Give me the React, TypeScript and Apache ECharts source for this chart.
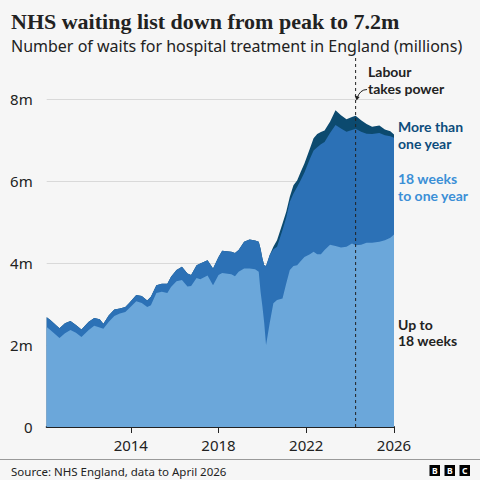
import React, { useEffect, useRef } from "react";
import * as echarts from "echarts";

// Month of each reading (YYYY-MM)
const months = [
  "2010-06", "2010-08", "2011-01", "2011-04", "2011-07", "2011-10", "2012-01", "2012-05",
  "2012-08", "2012-11", "2013-01", "2013-04", "2013-07", "2013-10", "2014-01", "2014-03",
  "2014-07", "2014-10", "2015-01", "2015-03", "2015-06", "2015-09", "2015-12", "2016-02",
  "2016-05", "2016-08", "2016-11", "2017-01", "2017-04", "2017-06", "2017-10", "2018-01",
  "2018-04", "2018-06", "2018-11", "2019-01", "2019-03", "2019-06", "2019-09", "2019-12",
  "2020-02", "2020-03", "2020-04", "2020-05", "2020-06", "2020-08", "2020-10", "2020-12",
  "2021-03", "2021-05", "2021-07", "2021-09", "2021-11", "2022-01", "2022-03", "2022-06",
  "2022-08", "2022-10", "2022-12", "2023-02", "2023-05", "2023-08", "2023-11", "2024-02",
  "2024-05", "2024-07", "2024-10", "2025-01", "2025-04", "2025-08", "2025-11", "2026-02",
  "2026-04",
];

// Up to 18 weeks (millions)
const upTo18Weeks = [
  2.44, 2.37, 2.17, 2.29, 2.37, 2.30, 2.20, 2.37,
  2.47, 2.43, 2.40, 2.57, 2.71, 2.77, 2.81, 2.89,
  3.07, 3.03, 2.93, 2.97, 3.27, 3.30, 3.27, 3.42,
  3.56, 3.59, 3.43, 3.44, 3.64, 3.61, 3.70, 3.46,
  3.71, 3.76, 3.73, 3.68, 3.79, 3.87, 3.87, 3.85,
  3.79, 3.30, 2.95, 2.54, 2.00, 2.54, 3.02, 3.10,
  3.14, 3.50, 3.83, 3.93, 3.95, 4.05, 4.15, 4.22,
  4.28, 4.22, 4.22, 4.32, 4.45, 4.42, 4.38, 4.40,
  4.48, 4.44, 4.45, 4.50, 4.50, 4.52, 4.56, 4.62,
  4.70,
];

// 18 weeks to one year (millions)
const weeks18ToOneYear = [
  0.24, 0.24, 0.24, 0.24, 0.22, 0.19, 0.18, 0.20,
  0.19, 0.20, 0.12, 0.16, 0.16, 0.12, 0.12, 0.13,
  0.15, 0.17, 0.16, 0.21, 0.19, 0.20, 0.23, 0.25,
  0.27, 0.32, 0.32, 0.27, 0.31, 0.38, 0.37, 0.41,
  0.44, 0.54, 0.55, 0.57, 0.53, 0.65, 0.71, 0.70,
  0.73, 1.05, 1.17, 1.41, 1.93, 1.66, 1.32, 1.30,
  1.67, 1.61, 1.67, 1.77, 1.91, 1.98, 2.06, 2.33,
  2.47, 2.61, 2.68, 2.64, 2.73, 2.95, 2.91, 2.81,
  2.77, 2.84, 2.76, 2.66, 2.65, 2.66, 2.56, 2.48,
  2.36,
];

// More than one year (millions)
const moreThanOneYear = [
  0, 0, 0, 0, 0, 0, 0, 0,
  0, 0, 0, 0, 0, 0, 0, 0,
  0, 0, 0, 0, 0, 0, 0, 0,
  0, 0, 0, 0, 0, 0, 0, 0,
  0, 0, 0, 0, 0, 0, 0, 0,
  0, 0, 0, 0, 0, 0, 0.06, 0.16,
  0.16, 0.14, 0.12, 0.20, 0.16, 0.20, 0.22, 0.25,
  0.30, 0.32, 0.30, 0.28, 0.27, 0.36, 0.32, 0.30,
  0.32, 0.32, 0.28, 0.24, 0.18, 0.18, 0.14, 0.12,
  0.08,
];

const yTicks = [0, 2, 4, 6, 8];
const xTickMonths = ["2014-04", "2018-04", "2022-04", "2026-04"];
const labourMonth = "2024-07";

const toT = (m: string) => {
  const [y, mo] = m.split("-").map(Number);
  return y + (mo - 1) / 12;
};

const C_LIGHT = "#6ba7da";
const C_MED = "#2c71b6";
const C_NAVY = "#0c4a6f";
const INK = "#222222";
const SANS = '"Noto Sans", "Open Sans", sans-serif';
const LABEL = 'Lato, "Noto Sans", sans-serif';

export default function App() {
  const ref = useRef<HTMLDivElement>(null);

  useEffect(() => {
    document.body.style.margin = "0";
    if (!ref.current) return;
    const chart = echarts.init(ref.current, undefined, { renderer: "svg" });
    const xs = months.map(toT);
    // cumulative levels (stack drawn back-to-front)
    const lvl1 = upTo18Weeks;
    const lvl2 = upTo18Weeks.map((v, i) => v + weeks18ToOneYear[i]);
    const lvl3 = lvl2.map((v, i) => v + moreThanOneYear[i]);
    const mk = (vals: number[]) => xs.map((x, i) => [x, +vals[i].toFixed(3)]);
    const xTickVals = xTickMonths.map(toT);

    const area = (name: string, vals: number[], color: string, z: number) => ({
      name,
      type: "line",
      data: mk(vals),
      showSymbol: false,
      symbol: "none",
      z,
      lineStyle: { width: 0 },
      areaStyle: { color, opacity: 1, origin: "start" },
    });

    chart.setOption({
      animation: false,
      backgroundColor: "#f6f6f6",
      grid: { left: 46.7, right: 86, top: 99.3, bottom: 53 },
      xAxis: {
        type: "value",
        min: xs[0],
        max: xs[xs.length - 1],
        splitLine: { show: false },
        axisLine: { show: true, onZero: false, lineStyle: { color: INK, width: 2 } },
        axisTick: {
          show: true,
          customValues: xTickVals,
          length: 6,
          lineStyle: { color: INK, width: 1 },
        },
        axisLabel: {
          customValues: xTickVals,
          formatter: (v: number) => String(Math.floor(v)),
          color: INK,
          fontSize: 15,
          fontFamily: SANS,
          margin: 10,
        },
      },
      yAxis: {
        type: "value",
        min: yTicks[0],
        max: yTicks[yTicks.length - 1],
        interval: 2,
        axisLine: { show: false },
        axisTick: { show: false },
        splitLine: { lineStyle: { color: "#d9d9d9", width: 1 } },
        axisLabel: {
          formatter: (v: number) => (v === 0 ? "0" : `${v}m`),
          color: INK,
          fontSize: 15,
          fontFamily: SANS,
          margin: 14,
        },
      },
      series: [
        area("More than one year", lvl3, C_NAVY, 2),
        area("18 weeks to one year", lvl2, C_MED, 3),
        area("Up to 18 weeks", lvl1, C_LIGHT, 4),
      ],
    });

    const lx = chart.convertToPixel({ xAxisIndex: 0 }, toT(labourMonth)) as number;
    const yBottom = chart.convertToPixel({ yAxisIndex: 0 }, 0) as number;

    const txt = (
      text: string,
      x: number,
      y: number,
      size: number,
      color: string,
      weight: string | number = "normal",
      family = SANS,
      align = "left"
    ) => ({
      type: "text",
      z: 100,
      style: {
        text,
        x,
        y,
        fill: color,
        fontSize: size,
        fontWeight: weight,
        fontFamily: family,
        align,
        verticalAlign: "middle",
      },
    });

    // two-line label as two separate text elements
    const label2 = (a: string, b: string, x: number, yTop: number, color: string) => [
      txt(a, x, yTop, 14, color, "bold", LABEL),
      txt(b, x, yTop + 16.5, 14, color, "bold", LABEL),
    ];

    const bbcLetters = ["B", "B", "C"];
    const bbc = bbcLetters.flatMap((l, i) => {
      const x0 = 429.5 + i * 15;
      return [
        { type: "rect", z: 100, shape: { x: x0, y: 465, width: 10.5, height: 11 }, style: { fill: "#000" } },
        txt(l, x0 + 5.25, 470.7, 8.5, "#fff", "bold", SANS, "center"),
      ];
    });

    chart.setOption({
      graphic: [
        txt("NHS waiting list down from peak to 7.2m", 11, 21, 22, INK, "bold", '"Liberation Serif", serif'),
        txt("Number of waits for hospital treatment in England (millions)", 11, 46, 16, INK),
        {
          type: "line",
          z: 100,
          shape: { x1: lx, y1: 58, x2: lx, y2: yBottom },
          style: { stroke: INK, lineWidth: 1, lineDash: [3, 3] },
        },
        {
          type: "bezierCurve",
          z: 100,
          shape: { x1: 367, y1: 89.5, cpx1: 360, cpy1: 89.5, x2: lx + 1.5, y2: 98 },
          style: { stroke: INK, lineWidth: 1, fill: "none" },
        },
        {
          type: "polygon",
          z: 100,
          shape: { points: [[lx - 1, 95.5], [lx + 1, 100.5], [lx + 4, 97]] },
          style: { fill: INK },
        },
        ...label2("Labour", "takes power", 368, 71.5, INK),
        ...label2("More than", "one year", 398, 126.5, "#0d4c7c"),
        ...label2("18 weeks", "to one year", 398, 178.5, "#3b8fd6"),
        ...label2("Up to", "18 weeks", 398, 324, INK),
        {
          type: "line",
          z: 100,
          shape: { x1: 0, y1: 459.5, x2: 480, y2: 459.5 },
          style: { stroke: "#9a9a9a", lineWidth: 1 },
        },
        txt("Source: NHS England, data to April 2026", 11, 471, 11.5, INK),
        ...bbc,
      ],
    });

    return () => chart.dispose();
  }, []);

  return <div ref={ref} style={{ width: 480, height: 480 }} />;
}
